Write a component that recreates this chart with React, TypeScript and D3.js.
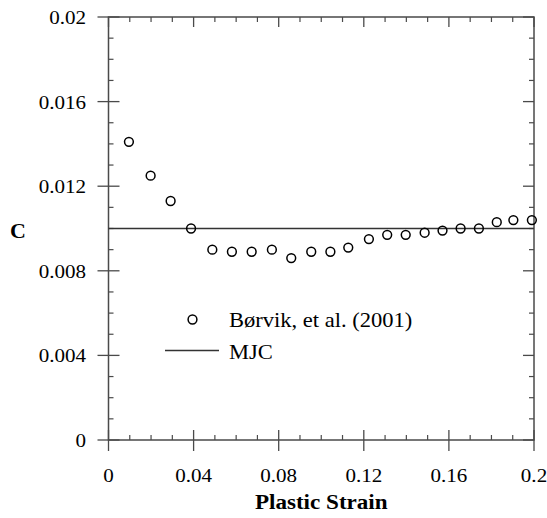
import React from 'react';
import * as d3 from 'd3';

// Børvik et al. (2001) data points
const strainValues = [0.0096, 0.0198, 0.0292, 0.0388, 0.0488, 0.058, 0.0673, 0.0768, 0.0859, 0.0953, 0.1043,
  0.1127, 0.1224, 0.131, 0.1397, 0.1486, 0.157, 0.1655, 0.1741, 0.1825, 0.1903, 0.199];
const cValues = [0.0141, 0.0125, 0.0113, 0.0100, 0.0090, 0.0089, 0.0089, 0.0090, 0.0086, 0.0089, 0.0089,
  0.0091, 0.0095, 0.0097, 0.0097, 0.0098, 0.0099, 0.0100, 0.0100, 0.0103, 0.0104, 0.0104];
const mjcValue = 0.01;
const xTicks = [0, 0.04, 0.08, 0.12, 0.16, 0.2];
const yTicks = [0, 0.004, 0.008, 0.012, 0.016, 0.02];
const legendLabels = ['Børvik, et al. (2001)', 'MJC'];

const W = 547;
const H = 518;
const margin = { left: 108.5, right: 13, top: 17, bottom: 78 };
const FONT = "'Liberation Serif', 'Times New Roman', Times, serif";

// text drawn slightly wider than tall, like the original
const Label = ({ x, y, size, sx = 1.08, anchor = 'start', bold = false, children }: any) => (
  <text transform={`translate(${x},${y}) scale(${sx},1)`} textAnchor={anchor}
    style={{ fontFamily: FONT, fontSize: size, fontWeight: bold ? 700 : 400 }} fill="#000">{children}</text>
);

export default function App() {
  const x = d3.scaleLinear().domain([0, 0.2]).range([margin.left, W - margin.right]);
  const y = d3.scaleLinear().domain([0, 0.02]).range([H - margin.bottom, margin.top]);
  const [x0, x1] = x.range();
  const [y0, y1] = y.range();

  const xMinor = d3.range(0, 21).map(i => i * 0.01).filter(v => !xTicks.some(t => Math.abs(t - v) < 1e-9));
  const yMinor = d3.range(0, 21).map(i => i * 0.001).filter(v => !yTicks.some(t => Math.abs(t - v) < 1e-9));

  const fmt = (v: number) => (v === 0 ? '0' : String(+v.toFixed(3)));
  const axisColor = '#4a4a4a';

  return (
    <svg width={W} height={H} style={{ position: 'absolute', left: 0, top: 0 }}>
      <rect x={0} y={0} width={W} height={H} fill="#fff" />
      {/* frame */}
      <rect x={x0} y={y1} width={x1 - x0} height={y0 - y1} fill="none" stroke={axisColor} strokeWidth={1.5} />

      {/* x ticks */}
      {xTicks.map(t => (
        <g key={'xt' + t}>
          <line x1={x(t)} x2={x(t)} y1={y0 + 11} y2={y0 - 10} stroke={axisColor} strokeWidth={1.3} />
          <line x1={x(t)} x2={x(t)} y1={y1} y2={y1 + 10} stroke={axisColor} strokeWidth={1.3} />
          <Label x={x(t)} y={y0 + 41.5} size={19.5} anchor="middle">{fmt(t)}</Label>
        </g>
      ))}
      {xMinor.map(t => (
        <g key={'xm' + t}>
          <line x1={x(t)} x2={x(t)} y1={y0} y2={y0 - 5} stroke={axisColor} strokeWidth={1.2} />
          <line x1={x(t)} x2={x(t)} y1={y1} y2={y1 + 5} stroke={axisColor} strokeWidth={1.2} />
        </g>
      ))}

      {/* y ticks */}
      {yTicks.map(t => (
        <g key={'yt' + t}>
          <line x1={x0 - 11} x2={x0 + 11} y1={y(t)} y2={y(t)} stroke={axisColor} strokeWidth={1.3} />
          <line x1={x1} x2={x1 - 11} y1={y(t)} y2={y(t)} stroke={axisColor} strokeWidth={1.3} />
          <Label x={86} y={y(t) + 7} size={19.5} anchor="end">{fmt(t)}</Label>
        </g>
      ))}
      {yMinor.map(t => (
        <g key={'ym' + t}>
          <line x1={x0} x2={x0 + 5} y1={y(t)} y2={y(t)} stroke={axisColor} strokeWidth={1.2} />
          <line x1={x1} x2={x1 - 5} y1={y(t)} y2={y(t)} stroke={axisColor} strokeWidth={1.2} />
        </g>
      ))}

      {/* MJC line */}
      <line x1={x0} x2={x1} y1={y(mjcValue)} y2={y(mjcValue)} stroke="#333" strokeWidth={1.3} />

      {/* data points */}
      {strainValues.map((s, i) => (
        <circle key={i} cx={x(s)} cy={y(cValues[i])} r={4.4} fill="none" stroke="#000" strokeWidth={1.5} />
      ))}

      {/* legend */}
      <circle cx={192.5} cy={319.5} r={4.4} fill="none" stroke="#000" strokeWidth={1.5} />
      <Label x={229} y={327} size={20.5} sx={1.1}>{legendLabels[0]}</Label>
      <line x1={165} x2={219} y1={350.5} y2={350.5} stroke="#333" strokeWidth={1.3} />
      <Label x={229} y={359} size={20.5} sx={1.1}>{legendLabels[1]}</Label>

      {/* axis titles */}
      <Label x={(x0 + x1) / 2} y={509} size={21} sx={1.1} anchor="middle" bold>Plastic Strain</Label>
      <Label x={18} y={238} size={22} sx={1} anchor="middle" bold>C</Label>
    </svg>
  );
}
